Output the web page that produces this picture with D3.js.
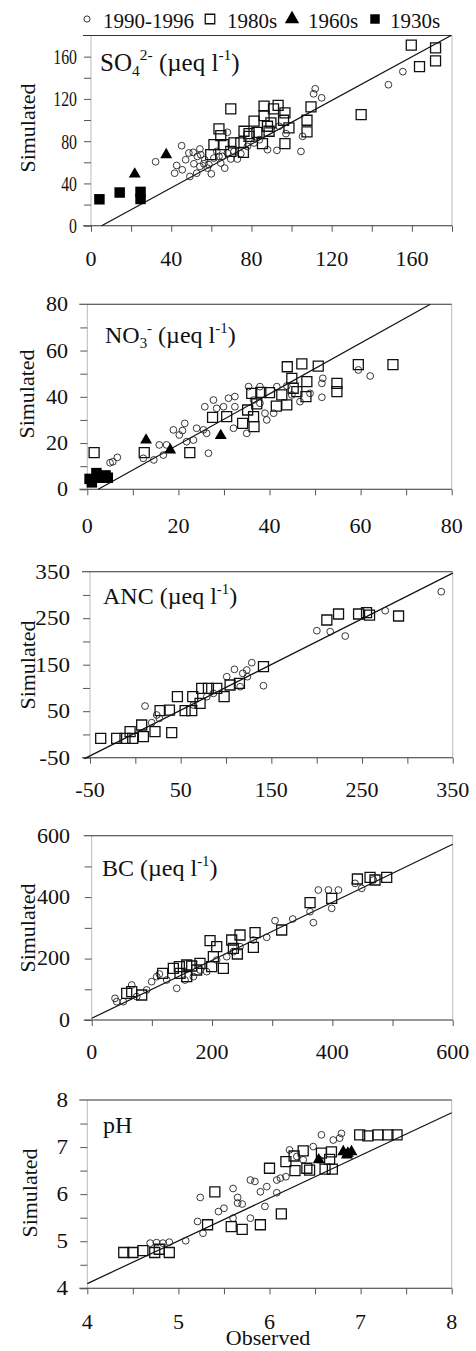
<!DOCTYPE html>
<html>
<head>
<meta charset="utf-8">
<script src="https://cdn.jsdelivr.net/npm/d3@7"></script>
<style>
body { margin: 0; background: #fff; }
svg text { fill: #111; }
</style>
</head>
<body>
<svg width="476" height="1351"></svg>
<script>
// observed, simulated pairs
var so4_1990 = [[32.2,60.5],[45.2,75.7],[42.7,57],[45.5,52.9],[41.7,49.7],[49.3,46.6],[51,69.4],[53,65.6],[54.3,72.6],[51.3,58.6],[54.3,56.1],[56.3,58.6],[58,54.5],[60,49.1],[56.7,62.4],[61.3,64],[63.8,65.6],[66.7,54.5],[68,88.4],[69.7,63.1],[73,63.1],[74.7,68.1],[78,75.1],[81.3,78.3],[84,81.4],[88,71.9],[92.7,71.3],[97.2,87.1],[93.8,94.1],[104.7,70.3],[105.5,84.6],[111.8,129.6],[111,124.8],[115,121],[148.3,133.4],[155.5,145.8],[71.3,70.3],[48.8,68.8],[47.2,62.4],[54.7,67.2],[58.8,57.7],[62.7,70.3],[65.5,65.6],[68,68.8],[64.7,59.3],[52.7,49.7]];
var so4_1980 = [[159.7,170.8],[171.8,168.2],[171.8,155.9],[163.8,150.5],[134.7,105.2],[69.7,110.6],[109.7,112.5],[107.7,99.8],[107.7,88.7],[86.3,113.1],[91,110.6],[93.3,113.8],[86.3,104.2],[96,99.8],[96.7,106.8],[89.7,97.3],[81.3,98.9],[78.8,87.1],[76.3,89.4],[88,94.1],[88.8,89.4],[82.7,88.4],[98.7,92.5],[96.7,77.6],[85.5,77.6],[78.8,84.6],[63.8,91.6],[64.7,85.2],[61.3,76.7],[59.7,67.2],[66,76.7],[71.3,78.3],[76,69.4],[69.7,70.3],[74.7,78.3]];
var so4_1960 = [[21.8,48.8],[37.5,67.2]];
var so4_1930 = [[4.2,25],[14.3,31.4],[24.7,32],[24.7,25.3]];
var so4_fit = [[5.3,0],[179.5,180]];

var no3_1990 = [[5,11.5],[6.6,13.8],[5.6,11.9],[12.3,13.4],[14.6,12.7],[15.8,19.2],[17.4,19.2],[16.7,14.8],[18.9,25.7],[20.2,23.5],[21.4,28.5],[20.9,25.4],[21.8,20.6],[23.3,21.3],[24,26.4],[25.5,25.7],[25.8,35.7],[26.6,15.6],[27.7,38.6],[26.2,24.2],[28.4,35],[29.9,35.7],[31,39.4],[32.4,40.1],[32.4,35.7],[32.1,26.4],[35,24.2],[35.4,44.4],[37.9,44.4],[39,32.9],[39.4,30],[40.9,32.9],[41.6,44.4],[43.8,44.7],[51.5,45.8],[51.5,39.8],[51.7,48],[62.1,49],[59.5,51.6],[44.9,40.8],[46.7,37.9],[48.9,41.5],[36.5,38.6],[37.9,37.2]];
var no3_1980 = [[1.5,15.9],[12.5,15.9],[22.5,15.9],[27.5,31.1],[30.6,31.4],[34.1,28.5],[35.2,34.3],[36.5,31.4],[36.6,27.1],[37.2,36.9],[36.1,41.5],[38.1,41.9],[40,41.8],[41.5,36],[42.7,40.8],[43.8,36.5],[43.9,53],[47.1,54.2],[50.7,53.3],[45.2,43.7],[44.9,48],[48.2,46.6],[48,40.1],[54.8,45.8],[54.8,42.2],[59.5,53.9],[67.1,53.9],[46,42.2]];
var no3_1960 = [[12.9,21.3],[18.2,17],[29.3,23.2]];
var no3_1930 = [[0.5,4.5],[1,3],[2,7],[2.5,5],[4,6],[4.5,5]];
var no3_fit = [[2.4,0],[75.3,80]];

var anc_1990 = [[10.7,61.1],[100.8,124.2],[109.3,140],[128.4,154.3],[122.9,138.5],[141.3,104.8],[200.2,223.1],[214.9,221],[231.5,211.6],[275.6,266.1],[337.4,307],[18,25.3],[23.6,41.8],[26.5,34.6],[64,63.3],[78.8,81.2],[86.1,88.4],[115.6,102.7],[118.5,131.4],[123.6,124.2]];
var anc_1980 = [[-38.2,-8.4],[-20.6,-8.4],[-11.4,-8.4],[-2.9,-8.4],[-5.8,5.9],[7,20.3],[8.9,-4.8],[21.7,5.9],[40.1,3.8],[37.6,52.5],[46.4,81.2],[27.3,51.1],[54.9,51.1],[62.2,51.1],[63.3,81.2],[71.4,66.8],[73.2,99.1],[80.6,99.1],[89.8,99.1],[97.9,81.2],[104.5,106.3],[114.8,109.9],[141.3,145.7],[211.2,246.1],[224.1,259],[246.2,259],[258.3,256.8],[290.3,254.7],[255,262]];
var anc_fit = [[-56,-52],[350,347]];

var bc_1990 = [[38.8,70.5],[41.6,59.7],[52.6,59.7],[66.5,113.9],[74.8,76],[91.4,97.7],[99.7,124.8],[108,141.1],[112.5,149.8],[141.3,103.1],[155.1,130.2],[180,162.8],[191.1,157.4],[207.8,195.3],[224.4,206.2],[235.5,222.5],[246.5,238.7],[290.9,269.1],[304.7,323.4],[334.1,328.8],[362.9,352.7],[368.4,316.9],[376.7,423.2],[393.4,423.2],[410,423.2],[398.9,363.5],[437.7,444.9],[448.8,428.6],[468.1,455.8],[268.7,260.4],[124.7,130.2],[169,141.1]];
var bc_1980 = [[58.2,86.8],[66.5,92.2],[83.1,81.4],[118,151.9],[135.7,168.2],[145.7,173.6],[157.9,179.1],[166.2,175.8],[180,184.5],[174.5,162.8],[196.7,258.3],[207.8,238.7],[202.2,206.2],[199.4,173.6],[218.8,168.2],[232.7,260.4],[246.5,276.7],[242.1,214.9],[235.5,233.3],[271.5,284.3],[268.7,236.6],[315.8,293],[362.9,382],[398.9,396.1],[441.6,459],[462.6,464.5],[490.3,464.5],[470.9,455.8],[146.8,151.9],[157.9,141.1]];
var bc_fit = [[0,5.5],[600,572]];

var ph_1990 = [[4.69,4.96],[4.76,4.97],[4.83,4.96],[4.9,4.98],[5.08,5.01],[5.24,5.93],[5.21,5.42],[5.27,5.17],[5.44,5.63],[5.5,5.7],[5.6,6.12],[5.65,5.93],[5.65,5.81],[5.7,5.79],[5.6,5.49],[5.79,6.3],[5.84,6.27],[5.79,5.49],[5.9,6.05],[5.97,6.16],[5.95,5.74],[6.08,6.03],[6.08,6.3],[6.12,6.34],[6.18,6.37],[6.22,6.94],[6.48,7.01],[6.57,7.26],[6.7,7.15],[6.79,7.29],[6.77,7.19],[6.3,6.8],[6.37,6.73],[6.55,6.73]];
var ph_1980 = [[4.4,4.76],[4.5,4.76],[4.61,4.8],[4.79,4.83],[4.9,4.76],[4.74,4.76],[5.32,5.35],[5.4,6.05],[5.58,5.31],[5.7,5.25],[5.9,5.35],[6.13,5.58],[6.0,6.55],[6.18,6.69],[6.27,6.81],[6.28,6.5],[6.37,6.92],[6.41,6.55],[6.44,6.51],[6.57,6.87],[6.61,6.53],[6.68,6.9],[6.69,6.53],[6.99,7.26],[7.08,7.24],[7.19,7.26],[7.3,7.26],[7.4,7.26],[6.66,6.74]];
var ph_1960 = [[6.81,6.9],[6.86,6.87],[6.9,6.9],[6.85,6.83],[6.54,6.73]];
var ph_fit = [[4,4.1],[8,7.73]];

// tick labels and minor ticks
var so4_ticks = [0,40,80,120,160], so4_minor = [20,60,100,140,180];
var no3_ticks = [0,20,40,60,80], no3_minor = [10,30,50,70];
var anc_ticks = [-50,50,150,250,350], anc_minor = [0,100,200,300];
var bc_ticks = [0,200,400,600], bc_minor = [100,300,500];
var ph_ticks = [4,5,6,7,8], ph_minor = [4.5,5.5,6.5,7.5];

var legendNames = ["1990-1996", "1980s", "1960s", "1930s"];

var serif = "'Liberation Serif', 'DejaVu Serif', 'Times New Roman', serif";
var svg = d3.select("svg").attr("font-family", serif);

// marker styles, one per decade
var markers = {
  "1990": { type: d3.symbolCircle, size: 36, fill: "none", stroke: "#222", sw: 0.9 },
  "1980": { type: d3.symbolSquare, size: 100, fill: "none", stroke: "#111", sw: 1.3 },
  "1960": { type: d3.symbolTriangle, size: 62, fill: "#000", stroke: "none", sw: 0 },
  "1930": { type: d3.symbolSquare, size: 110, fill: "#000", stroke: "none", sw: 0 }
};

var panels = [
  { xr: [91, 452], yr: [225.7, 35.5], xd: [0, 180], yd: [0, 180], ticks: so4_ticks, minor: so4_minor,
    series: { "1990": so4_1990, "1980": so4_1980, "1960": so4_1960, "1930": so4_1930 }, fit: so4_fit,
    ylab: { right: 77, size: 22, sx: 0.72 }, xlabOff: 33, simY: 128, simX: 27,
    label: { x: 100, y: 70.5, size: 25, parts: [["SO",""],["4","sub"],["2-","sup"],[" (\u00b5eq l",""],["-1","sup"],[")",""]] } },
  { xr: [87.3, 451.7], yr: [489.3, 304.3], xd: [0, 80], yd: [0, 80], ticks: no3_ticks, minor: no3_minor,
    series: { "1990": no3_1990, "1980": no3_1980, "1960": no3_1960, "1930": no3_1930 }, fit: no3_fit,
    ylab: { right: 68, size: 21, sx: 1.05 }, xlabOff: 36, simY: 394, simX: 26,
    label: { x: 105, y: 343, size: 24, parts: [["NO",""],["3","sub"],["-","sup"],[" (\u00b5eq l",""],["-1","sup"],[")",""]] } },
  { xr: [90, 452.7], yr: [757.7, 571.7], xd: [-50, 350], yd: [-50, 350], ticks: anc_ticks, minor: anc_minor,
    series: { "1990": anc_1990, "1980": anc_1980 }, fit: anc_fit,
    ylab: { right: 70, size: 21, sx: 1.1 }, xlabOff: 32, simY: 665, simX: 27,
    label: { x: 103, y: 604, size: 24, parts: [["ANC (\u00b5eq l",""],["-1","sup"],[")",""]] } },
  { xr: [91.7, 452.7], yr: [1020, 835.7], xd: [0, 600], yd: [0, 600], ticks: bc_ticks, minor: bc_minor,
    series: { "1990": bc_1990, "1980": bc_1980 }, fit: bc_fit,
    ylab: { right: 70, size: 20, sx: 1.1 }, xlabOff: 31, simY: 928, simX: 27,
    label: { x: 102, y: 876, size: 24, parts: [["BC (\u00b5eq l",""],["-1","sup"],[")",""]] } },
  { xr: [87.3, 451.7], yr: [1288.3, 1100], xd: [4, 8], yd: [4, 8], ticks: ph_ticks, minor: ph_minor,
    series: { "1990": ph_1990, "1980": ph_1980, "1960": ph_1960 }, fit: ph_fit,
    ylab: { right: 68, size: 21, sx: 1.1 }, xlabOff: 33, simY: 1193, simX: 29,
    label: { x: 103, y: 1133, size: 24, parts: [["pH",""]] } }
];

function drawLabel(g, lab) {
  var t = g.append("text").attr("x", lab.x).attr("y", lab.y).style("font-size", lab.size + "px");
  var cur = 0;
  lab.parts.forEach(function(p) {
    var target = p[1] === "sub" ? lab.size * 0.2 : (p[1] === "sup" ? -lab.size * 0.42 : 0);
    t.append("tspan")
      .attr("dy", target - cur)
      .style("font-size", (p[1] ? lab.size * 0.62 : lab.size) + "px")
      .text(p[0]);
    cur = target;
  });
}

panels.forEach(function(p) {
  var x = d3.scaleLinear().domain(p.xd).range(p.xr);
  var y = d3.scaleLinear().domain(p.yd).range(p.yr);
  var g = svg.append("g");
  var x0 = p.xr[0], x1 = p.xr[1], yb = p.yr[0], yt = p.yr[1];

  // frame: faint sides, dark top and bottom that run out past the y axis
  g.append("line").attr("x1", x0).attr("x2", x0).attr("y1", yt).attr("y2", yb).style("stroke", "#bbb");
  g.append("line").attr("x1", x1).attr("x2", x1).attr("y1", yt).attr("y2", yb).style("stroke", "#bbb");
  g.append("line").attr("x1", x0 - 8).attr("x2", x1).attr("y1", yt).attr("y2", yt).style("stroke", "#333").style("stroke-width", 1.1);
  g.append("line").attr("x1", x0 - 8).attr("x2", x1).attr("y1", yb).attr("y2", yb).style("stroke", "#333").style("stroke-width", 1.1);

  // axes for the tick marks only
  var all = p.ticks.concat(p.minor);
  var xa = g.append("g").attr("transform", "translate(0," + yb + ")")
    .call(d3.axisBottom(x).tickValues(all).tickSize(6).tickSizeOuter(0).tickFormat(""));
  var ya = g.append("g").attr("transform", "translate(" + x0 + ",0)")
    .call(d3.axisLeft(y).tickValues(all.filter(function(v) { return v < p.yd[1]; })).tickSize(7).tickSizeOuter(0).tickFormat(""));
  [xa, ya].forEach(function(a) {
    a.select(".domain").remove();
    a.selectAll(".tick line").style("stroke", "#555");
  });

  // tick labels
  g.selectAll(".xl").data(p.ticks).enter().append("text")
    .attr("x", function(d) { return x(d); })
    .attr("y", yb + p.xlabOff + 7.5)
    .attr("text-anchor", "middle")
    .style("font-size", "22px")
    .text(function(d) { return String(d); });
  g.selectAll(".yl").data(p.ticks).enter().append("text")
    .attr("transform", function(d) { return "translate(" + p.ylab.right + "," + (y(d) + p.ylab.size * 0.34) + ") scale(" + p.ylab.sx + ",1)"; })
    .attr("text-anchor", "end")
    .style("font-size", p.ylab.size + "px")
    .text(function(d) { return String(d); });

  g.append("text")
    .attr("transform", "translate(" + (p.simX + 7.5) + "," + p.simY + ") rotate(-90)")
    .attr("text-anchor", "middle")
    .style("font-size", "22px")
    .text("Simulated");

  drawLabel(g, p.label);

  // fitted line
  g.append("path")
    .datum(p.fit)
    .attr("d", d3.line().x(function(d) { return x(d[0]); }).y(function(d) { return y(d[1]); }))
    .style("stroke", "#111").style("stroke-width", 1.2).style("fill", "none");

  ["1990", "1980", "1960", "1930"].forEach(function(key) {
    var pts = p.series[key];
    if (!pts) return;
    var m = markers[key];
    g.selectAll(".m" + key).data(pts).enter().append("path")
      .attr("transform", function(d) { return "translate(" + x(d[0]) + "," + y(d[1]) + ")"; })
      .attr("d", d3.symbol().type(m.type).size(m.size))
      .style("fill", m.fill).style("stroke", m.stroke).style("stroke-width", m.sw);
  });
});

// x title under the last panel
svg.append("text").attr("x", 268).attr("y", 1345).attr("text-anchor", "middle")
  .style("font-size", "22px").text("Observed");

// legend at the top
var legendKeys = ["1990", "1980", "1960", "1930"];
var legendSym = [87, 210, 292, 375];
var legendText = [103, 227, 308, 390];
var lg = svg.append("g");
legendKeys.forEach(function(key, i) {
  var m = markers[key];
  lg.append("path")
    .attr("transform", "translate(" + legendSym[i] + ",19)")
    .attr("d", d3.symbol().type(m.type).size(key === "1990" ? 30 : 90))
    .style("fill", m.fill).style("stroke", m.stroke).style("stroke-width", m.sw);
  lg.append("text").attr("x", legendText[i]).attr("y", 27.5)
    .style("font-size", "21px").text(legendNames[i]);
});

svg.selectAll("text").style("font-family", serif);
</script>
</body>
</html>
